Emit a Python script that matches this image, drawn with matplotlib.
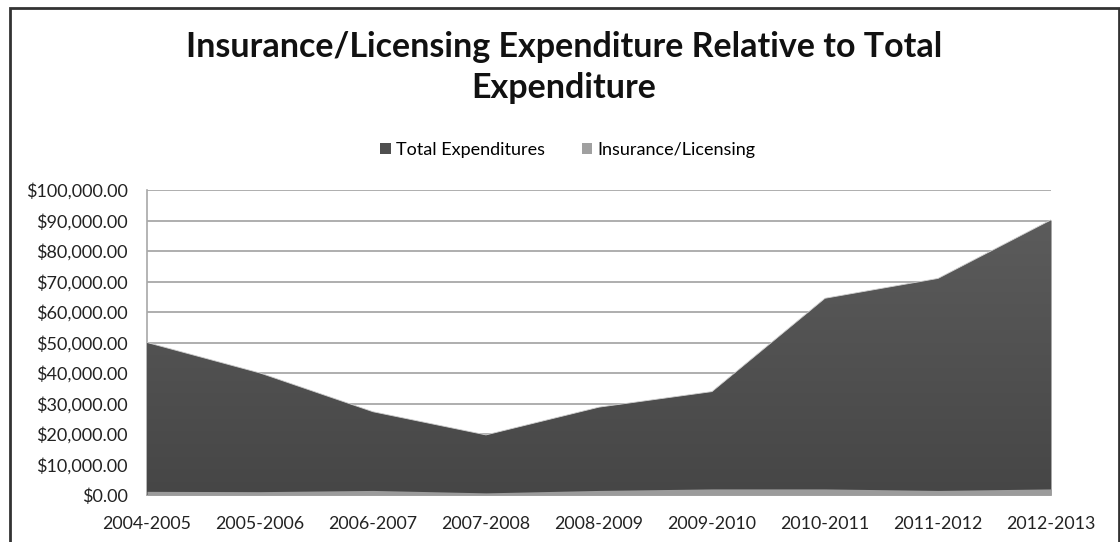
import matplotlib
matplotlib.use("Agg")
import matplotlib.pyplot as plt
import numpy as np
from matplotlib.patches import Patch, Rectangle
from matplotlib.ticker import FuncFormatter
from matplotlib.colors import LinearSegmentedColormap

categories = ["2004-2005", "2005-2006", "2006-2007", "2007-2008", "2008-2009",
              "2009-2010", "2010-2011", "2011-2012", "2012-2013"]
total_expenditures = [50000, 40000, 27300, 19700, 28800, 33900, 64500, 71000, 90200]
insurance_licensing = [1200, 1100, 1500, 700, 1500, 2000, 2000, 1500, 2000]
title_line1 = "Insurance/Licensing Expenditure Relative to Total"
title_line2 = "Expenditure"

plt.rcParams['font.family'] = ['Lato', 'DejaVu Sans']

fig = plt.figure(figsize=(11.2, 5.42), dpi=100)
W, H = 1120, 542
ax = fig.add_axes([147 / W, 1 - 495 / H, (1051 - 147) / W, (495 - 190) / H])

x = np.arange(len(categories))

# total area with subtle vertical gradient
poly = ax.fill_between(x, 0, total_expenditures, color="#505050", linewidth=0, zorder=2)
grad = np.linspace(0, 1, 256).reshape(-1, 1)
cmap = LinearSegmentedColormap.from_list("g", ["#464646", "#5e5e5e"])
img = ax.imshow(grad, aspect="auto", cmap=cmap, origin="lower",
                extent=[x[0], x[-1], 0, 100000], zorder=3)
img.set_clip_path(poly.get_paths()[0], transform=ax.transData)
ax.plot(x, total_expenditures, color="#d0d0d0", lw=0.6, zorder=3.5)

ax.fill_between(x, 0, insurance_licensing, color="#9b9b9b", linewidth=0, zorder=4)

ax.set_xlim(x[0], x[-1])
ax.set_ylim(0, 100000)
ax.set_yticks(np.arange(0, 100001, 10000))
ax.yaxis.set_major_formatter(FuncFormatter(lambda v, p: "${:,.2f}".format(v)))
ax.set_xticks(x)
ax.set_xticklabels(categories)
ax.grid(axis="y", color="#a8a8a8", lw=1.3, zorder=1)
ax.set_axisbelow(True)
ax.tick_params(axis="both", length=0, colors="#222222")
ax.tick_params(axis="y", labelsize=13, pad=14)
ax.tick_params(axis="x", labelsize=12.8, pad=15)
for s in ["top", "right"]:
    ax.spines[s].set_visible(False)
ax.spines["left"].set_color("#a8a8a8")
ax.spines["bottom"].set_color("#a8a8a8")
ax.spines["left"].set_linewidth(1.2)
ax.spines["bottom"].set_linewidth(1.2)

fig.text(564 / W, 1 - 47 / H, title_line1, ha="center", va="center",
         fontsize=24.5, fontweight="bold", color="#111111")
fig.text(564 / W, 1 - 88 / H, title_line2, ha="center", va="center",
         fontsize=24.5, fontweight="bold", color="#111111")

handles = [Patch(facecolor="#4f4f4f", edgecolor="none"),
           Patch(facecolor="#a0a0a0", edgecolor="none")]
fig.legend(handles, ["Total Expenditures", "Insurance/Licensing"], loc="center",
           bbox_to_anchor=(568 / W, 1 - 150 / H), ncol=2, frameon=False,
           fontsize=13, handlelength=0.6, handleheight=0.6, handletextpad=0.3,
           columnspacing=2.0)

fig.patches.append(Rectangle((9.5 / W, -0.05), 1109 / W, 1.05 - 7.5 / H,
                             transform=fig.transFigure, fill=False,
                             edgecolor="#333333", lw=2, zorder=10))

fig.savefig("out.png", dpi=100)
